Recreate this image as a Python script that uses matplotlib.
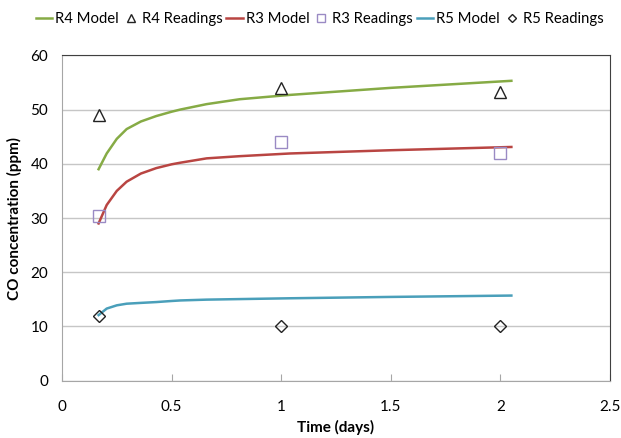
"""
CO concentration: model curves vs readings for R3, R4, R5
"""
import numpy as np
import matplotlib
matplotlib.use("Agg")
import matplotlib.pyplot as plt

plt.rcParams['font.family'] = ['Lato', 'DejaVu Sans']

# model curves (time in days, CO in ppm)
model_t = [0.167, 0.204, 0.25, 0.295, 0.36, 0.43, 0.50, 0.54, 0.66, 0.81, 1.04, 1.5, 2.05]
r4_model = [39.0, 41.9, 44.6, 46.4, 47.8, 48.8, 49.6, 50.0, 51.0, 51.9, 52.7, 54.0, 55.3]
r3_model = [29.0, 32.4, 35.0, 36.7, 38.2, 39.2, 39.9, 40.2, 41.0, 41.4, 41.9, 42.5, 43.1]
r5_model = [12.1, 13.3, 13.9, 14.2, 14.35, 14.5, 14.7, 14.8, 14.95, 15.05, 15.2, 15.45, 15.7]

# readings
read_t = [0.167, 1.0, 2.0]
r4_read = [49.0, 53.9, 53.3]
r3_read = [30.4, 44.0, 42.0]
r5_read = [12.0, 10.0, 10.0]

green = "#86AB45"
red = "#B94542"
blue = "#4A9FBA"
purple = "#9A8AC4"

fig = plt.figure(figsize=(6.21, 4.38), dpi=100)
ax = fig.add_axes([0.0998, 0.1308, 0.8825, 0.7429])

ax.plot(model_t, r4_model, color=green, lw=1.8, label="R4 Model")
ax.plot(read_t, r4_read, ls="none", marker="^", ms=8, mfc="none", mec="#222222",
        mew=1, label="R4 Readings")
ax.plot(model_t, r3_model, color=red, lw=1.8, label="R3 Model")
ax.plot(read_t, r3_read, ls="none", marker="s", ms=8, mfc="none", mec=purple,
        mew=1, label="R3 Readings")
ax.plot(model_t, r5_model, color=blue, lw=1.8, label="R5 Model")
ax.plot(read_t, r5_read, ls="none", marker="D", ms=6.5, mfc="none", mec="#222222",
        mew=1, label="R5 Readings")

ax.set_xlim(0, 2.5)
ax.set_ylim(0, 60)
ax.set_xticks(np.arange(0, 2.51, 0.5))
ax.set_xticklabels(["0", "0.5", "1", "1.5", "2", "2.5"])
ax.set_yticks(np.arange(0, 61, 10))
ax.yaxis.grid(True, color="#C6C6C6", lw=1)
ax.set_axisbelow(True)

for side in ("left", "bottom"):
    ax.spines[side].set_color("#A6A6A6")
for side in ("top", "right"):
    ax.spines[side].set_color("#404040")

ax.tick_params(axis="x", direction="in", length=5, color="#A6A6A6", labelsize=11, pad=14)
ax.tick_params(axis="y", length=0, labelsize=11, pad=10)

ax.set_xlabel("Time (days)", fontsize=11, fontweight="bold", labelpad=4)
ax.set_ylabel("CO concentration (ppm)", fontsize=11, fontweight="bold", labelpad=6)

fig.legend(loc="upper center", bbox_to_anchor=(0.515, 1.0), ncol=6, frameon=False,
           fontsize=10.7, handlelength=1.1, handletextpad=0.2, columnspacing=0.25,
           markerscale=0.7, borderaxespad=0.4)

plt.savefig("out.png")
